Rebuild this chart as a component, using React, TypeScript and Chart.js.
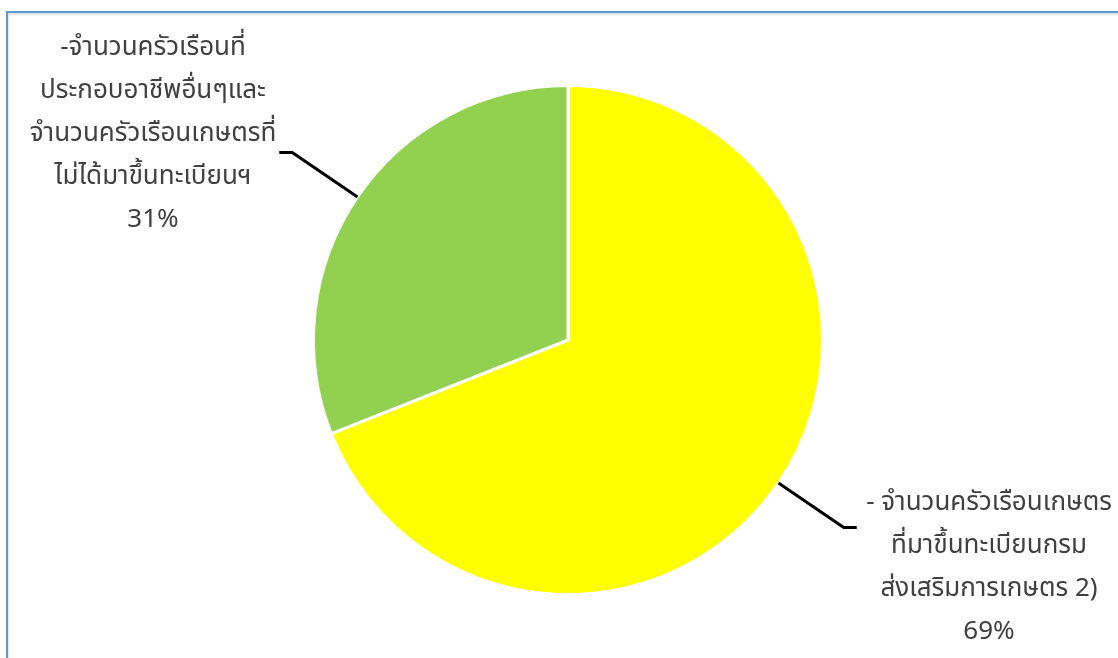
import React, { useEffect, useRef } from "react";
import { Chart, registerables } from "chart.js";

Chart.register(...registerables);

const categories: string[][] = [
  ["- จำนวนครัวเรือนเกษตร", "ที่มาขึ้นทะเบียนกรม", "ส่งเสริมการเกษตร 2)"],
  ["-จำนวนครัวเรือนที่", "ประกอบอาชีพอื่นๆและ", "จำนวนครัวเรือนเกษตรที่", "ไม่ได้มาขึ้นทะเบียนฯ"],
];
const percentValues: number[] = [69, 31];
const sliceColors: string[] = ["#FFFF00", "#92D050"];

const FONT = "Tahoma, 'Noto Sans Thai', 'Noto Sans', 'DejaVu Sans', sans-serif";

const labelPlugin = {
  id: "leaderLabels",
  afterDraw(chart: any) {
    const ctx = chart.ctx;
    const meta = chart.getDatasetMeta(0);
    const anchors = [
      { cx: 989, y0: 505, side: 1 },
      { cx: 153, y0: 50, side: -1 },
    ];
    ctx.save();
    meta.data.forEach((arc: any, i: number) => {
      const p = arc.getProps(["x", "y", "startAngle", "endAngle", "outerRadius"], true);
      const mid = (p.startAngle + p.endAngle) / 2;
      const sx = p.x + Math.cos(mid) * p.outerRadius;
      const sy = p.y + Math.sin(mid) * p.outerRadius;
      const ex = p.x + Math.cos(mid) * p.outerRadius * 1.31;
      const ey = p.y + Math.sin(mid) * p.outerRadius * 1.31;
      const a = anchors[i];
      ctx.strokeStyle = "#000000";
      ctx.lineWidth = 3;
      ctx.lineJoin = "miter";
      ctx.beginPath();
      ctx.moveTo(sx, sy);
      ctx.lineTo(ex, ey);
      ctx.lineTo(ex + a.side * 13, ey);
      ctx.stroke();

      const lines = [...categories[i], percentValues[i] + "%"];
      ctx.fillStyle = "#404040";
      ctx.font = "26px " + FONT;
      ctx.textAlign = "center";
      ctx.textBaseline = "middle";
      lines.forEach((t, k) => {
        ctx.fillText(t, a.cx, a.y0 + k * 43);
      });
    });
    ctx.restore();
  },
};

export default function App() {
  const ref = useRef<HTMLCanvasElement>(null);
  useEffect(() => {
    if (!ref.current) return;
    const chart = new Chart(ref.current, {
      type: "pie",
      data: {
        labels: categories.map((c) => c.join(" ")),
        datasets: [
          {
            data: percentValues,
            backgroundColor: sliceColors,
            borderColor: "#FFFFFF",
            borderWidth: 3,
          },
        ],
      },
      options: {
        animation: false,
        responsive: false,
        maintainAspectRatio: false,
        layout: { padding: { left: 312, right: 294, top: 84, bottom: 62 } },
        plugins: {
          legend: { display: false },
          tooltip: { enabled: false },
        },
      },
      plugins: [labelPlugin],
    });
    return () => chart.destroy();
  }, []);
  return (
    <div style={{ position: "fixed", left: 0, top: 0, width: 1118, height: 658, background: "#fff", overflow: "hidden" }}>
      <div
        style={{
          position: "absolute",
          left: 6,
          top: 11,
          width: 1200,
          height: 800,
          borderTop: "2px solid #5B9BD5",
          borderLeft: "2px solid #5B9BD5",
          boxShadow: "inset 1px 2px 2px rgba(0,0,0,0.12)",
        }}
      />
      <canvas ref={ref} width={1118} height={658} style={{ position: "absolute", left: 0, top: 0, width: 1118, height: 658 }} />
    </div>
  );
}
